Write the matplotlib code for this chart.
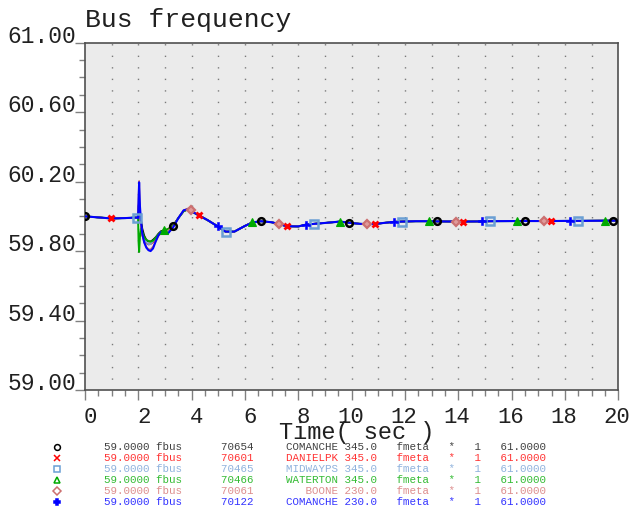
import numpy as np
import matplotlib
matplotlib.use("Agg")
import matplotlib.pyplot as plt
from matplotlib.lines import Line2D
from matplotlib.transforms import ScaledTranslation

plt.rcParams['font.family'] = ['Liberation Mono', 'DejaVu Sans Mono']

# --- datos ---
t_early = [0.0, 0.98, 1.5, 1.94, 1.99, 2.01, 2.03, 2.06, 2.1, 2.15, 2.22, 2.3, 2.38,
           2.46, 2.55, 2.65, 2.75, 2.85, 2.97, 3.1, 3.3, 3.5, 3.7, 3.85, 3.98]
t_late = [4.28, 4.6, 4.97, 5.27, 5.6, 6.0, 6.28, 6.6, 7.0, 7.28, 7.58, 8.0, 8.28, 8.6,
          9.0, 9.57, 9.9, 10.3, 10.58, 10.88, 11.2, 11.58, 11.9, 12.4, 12.9, 13.2, 13.9,
          14.18, 14.9, 15.2, 16.2, 16.5, 17.2, 17.48, 18.2, 18.5, 19.5, 19.8, 20.0]
f_late = [60.005, 59.978, 59.943, 59.912, 59.912, 59.945, 59.965, 59.972, 59.966, 59.955,
          59.943, 59.942, 59.952, 59.957, 59.962, 59.970, 59.963, 59.957, 59.955, 59.956,
          59.962, 59.968, 59.970, 59.972, 59.972, 59.971, 59.970, 59.970, 59.971, 59.972,
          59.973, 59.973, 59.973, 59.973, 59.974, 59.974, 59.975, 59.975, 59.975]

pre = [60.0, 59.988, 59.99, 59.993]
f_comanche345 = pre + [59.99, 60.06, 60.09, 60.03, 59.98, 59.93, 59.89, 59.865, 59.855, 59.855,
                       59.865, 59.88, 59.90, 59.915, 59.92, 59.925, 59.945, 59.99, 60.03, 60.038, 60.03]
f_danielpk = pre + [59.99, 60.05, 60.08, 60.0, 59.94, 59.89, 59.86, 59.845, 59.838, 59.84,
                    59.85, 59.87, 59.89, 59.905, 59.915, 59.925, 59.945, 59.99, 60.03, 60.04, 60.03]
f_midwayps = pre + [59.993, 60.03, 60.05, 60.0, 59.95, 59.90, 59.87, 59.85, 59.838, 59.84,
                    59.855, 59.875, 59.895, 59.91, 59.915, 59.92, 59.94, 59.99, 60.03, 60.04, 60.03]
f_waterton = pre + [59.99, 59.85, 59.795, 59.88, 59.93, 59.91, 59.88, 59.865, 59.858, 59.855,
                    59.86, 59.875, 59.895, 59.91, 59.92, 59.925, 59.945, 59.99, 60.03, 60.04, 60.03]
f_boone = pre + [59.99, 60.12, 60.204, 60.05, 59.95, 59.89, 59.85, 59.825, 59.81, 59.81,
                 59.825, 59.855, 59.885, 59.905, 59.91, 59.915, 59.94, 59.99, 60.035, 60.045, 60.035]
f_comanche230 = pre + [59.99, 60.10, 60.196, 60.06, 59.97, 59.90, 59.85, 59.82, 59.805, 59.80,
                       59.815, 59.855, 59.89, 59.908, 59.905, 59.90, 59.935, 59.99, 60.035, 60.04, 60.03]

marcas_comanche345 = [0.0, 3.3, 6.6, 9.9, 13.2, 16.5, 19.8]
marcas_danielpk = [0.98, 4.28, 7.58, 10.88, 14.18, 17.48]
marcas_midwayps = [1.94, 5.27, 8.6, 11.9, 15.2, 18.5]
marcas_waterton = [2.97, 6.28, 9.57, 12.9, 16.2, 19.5]
marcas_boone = [3.98, 7.28, 10.58, 13.9, 17.2]
marcas_comanche230 = [4.97, 8.28, 11.58, 14.9, 18.2]

barras = [70654, 70601, 70465, 70466, 70061, 70122]
nomes = ['COMANCHE', 'DANIELPK', 'MIDWAYPS', 'WATERTON', 'BOONE', 'COMANCHE']
kvs = [345.0, 345.0, 345.0, 345.0, 230.0, 230.0]
y_min, y_max = 59.0, 61.0

t = np.array(t_early + t_late)
series = [np.array(f + f_late) for f in
          (f_comanche345, f_danielpk, f_midwayps, f_waterton, f_boone, f_comanche230)]
marcas = [marcas_comanche345, marcas_danielpk, marcas_midwayps, marcas_waterton,
          marcas_boone, marcas_comanche230]

# estilos
cores_linha = ['black', '#ff0000', '#6a9fd4', '#00aa00', '#cc7070', '#0000ff']
cores_texto = ['#404040', '#ff3333', '#8fb2dd', '#33bb33', '#dd8d8d', '#3333ff']
estilo_marca = [
    dict(marker='o', ms=4.8, mfc='none', mec='black', mew=1.8),
    dict(marker='x', ms=4.8, mec='#ff0000', mew=2.0),
    dict(marker='s', ms=5.2, mfc='none', mec='#6a9fd4', mew=1.8),
    dict(marker='^', ms=6.0, mfc='#00aa00', mec='#00aa00', mew=0.8),
    dict(marker='D', ms=4.2, mfc='#e09a9a', mec='#cc7070', mew=1.6),
    dict(marker='P', ms=5.2, mfc='#0000ff', mec='#0000ff', mew=0.4),
]
larguras = [1.2, 1.2, 1.2, 1.4, 1.2, 1.5]

W, H = 633, 513
fig = plt.figure(figsize=(W / 100, H / 100), dpi=100)
ax = fig.add_axes([85 / W, 1 - 390 / H, (618.3 - 85) / W, (390 - 42.7) / H])
ax.set_facecolor('#ebebeb')

# grade pontilhada vertical
ax.vlines(np.arange(1, 20), y_min, y_max, colors='#7a7a7a', lw=1.0,
          linestyles=[(0.6, (1.0, 7.3))], zorder=1)

for f, cor, lw in zip(series, cores_linha, larguras):
    ax.plot(t, f, color=cor, lw=lw, zorder=3)

for f, m, est in zip(series, marcas, estilo_marca):
    idx = [int(np.argmin(np.abs(t - tm))) for tm in m]
    ax.plot(t, f, ls='none', markevery=idx, zorder=4, **est)

ax.set_xlim(0, 20)
ax.set_ylim(y_min, y_max)
ax.set_xticks(np.arange(0, 21, 2))
ax.set_xticks(np.arange(0, 20.01, 0.5), minor=True)
ax.set_yticks(np.arange(59.0, 61.01, 0.4))
ax.set_yticks(np.arange(59.0, 61.001, 0.1), minor=True)
ax.set_yticklabels([f'{v:.2f}' for v in np.arange(59.0, 61.01, 0.4)])

for s in ax.spines.values():
    s.set_color('#505050')
    s.set_linewidth(1.2)

ax.tick_params(axis='both', which='major', direction='out', length=7.5, width=1.0, color='#808080')
ax.tick_params(axis='both', which='minor', direction='out', length=4.3, width=1.0, color='#808080')
ax.tick_params(axis='x', labelsize=16, pad=5, labelcolor='#202020')
ax.tick_params(axis='y', labelsize=16.5, pad=-1, labelcolor='#202020')

off = ScaledTranslation(0.12, 0, fig.dpi_scale_trans)
for lab in ax.get_xticklabels():
    lab.set_ha('right')
    lab.set_transform(lab.get_transform() + off)
for lab in ax.get_yticklabels():
    lab.set_va('baseline')

fig.text(85 / W, 1 - 27 / H, 'Bus frequency', fontsize=19, ha='left', va='baseline', color='#202020')
fig.text(357 / W, 1 - 439 / H, 'Time( sec )', fontsize=17, ha='center', va='baseline', color='#202020')

# legenda estilo PSS/E
for i in range(len(series)):
    y = 1 - (447.3 + 10.9 * i) / H
    linha = (f'{y_min:7.4f} fbus      {barras[i]:5d}     {nomes[i]:>8s} {kvs[i]:5.1f}   '
             f'fmeta   *   1   {y_max:7.4f}')
    fig.text(104 / W, y, linha, fontsize=7.8, color=cores_texto[i], ha='left', va='center')
    mk = dict(estilo_marca[i])
    mk['ms'] = 4.2
    mk['mew'] = 1.1
    if mk['marker'] in ('^', 'D'):
        mk['mfc'] = 'none'
    fig.add_artist(Line2D([57 / W], [y], transform=fig.transFigure, ls='none', **mk))

fig.savefig('out.png', dpi=100)
